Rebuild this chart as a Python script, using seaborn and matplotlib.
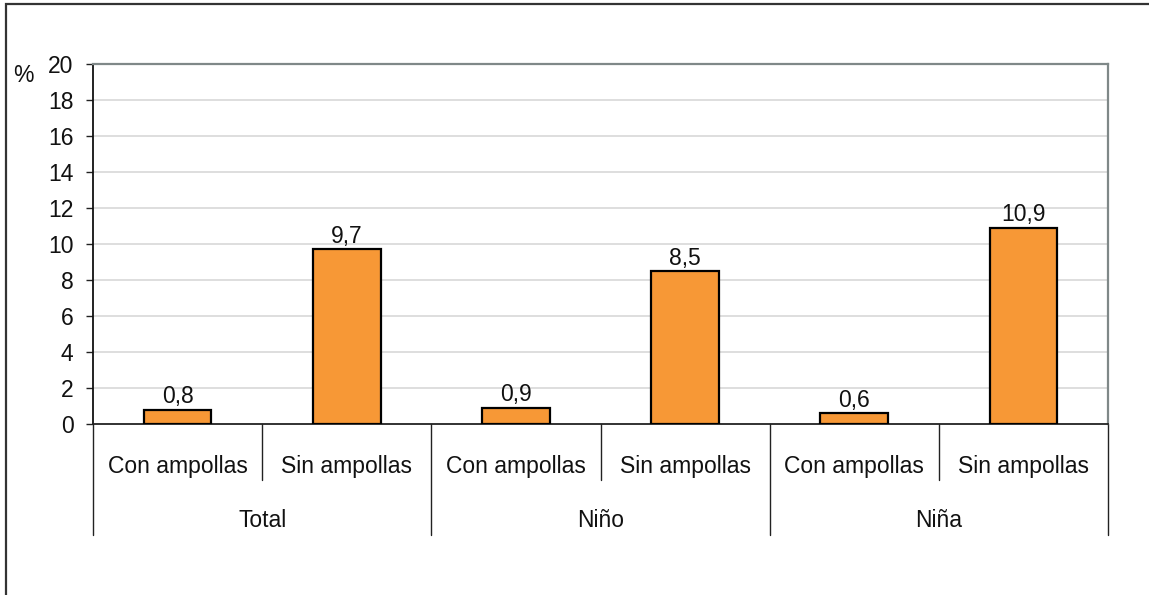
import matplotlib
matplotlib.use('Agg')
import matplotlib.pyplot as plt
import matplotlib.transforms as mtransforms
from matplotlib.patches import Rectangle
import seaborn as sns
import pandas as pd

groups = ['Total', 'Niño', 'Niña']
subcats = ['Con ampollas', 'Sin ampollas']
values = [0.8, 9.7, 0.9, 8.5, 0.6, 10.9]
value_labels = ['0,8', '9,7', '0,9', '8,5', '0,6', '10,9']
yticks = [0, 2, 4, 6, 8, 10, 12, 14, 16, 18, 20]

rows = []
for gi, g in enumerate(groups):
    for si, s in enumerate(subcats):
        rows.append({'key': f'{g}|{s}', 'grupo': g, 'cat': s, 'pct': values[gi * 2 + si]})
df = pd.DataFrame(rows)

sns.set_style('white')
plt.rcParams['font.family'] = ['Liberation Sans Narrow', 'Liberation Sans', 'DejaVu Sans']
fs = 16.5

fig = plt.figure(figsize=(11.49, 5.95), dpi=100)
ax = fig.add_axes([93 / 1149, 1 - 424 / 595, (1108 - 93) / 1149, 360 / 595])

sns.barplot(data=df, x='key', y='pct', order=df['key'], color='#F79836',
            saturation=1, width=0.40, edgecolor='black', linewidth=1.6, ax=ax, zorder=3)

ax.set_ylim(0, 20)
ax.set_xlim(-0.5, len(df) - 0.5)
ax.set_yticks(yticks)
ax.set_yticklabels([str(t) for t in yticks], fontsize=fs, color='#111111')
ax.tick_params(axis='y', length=5, width=1, color='#222222', pad=9, left=True, direction='out')
ax.set_xticks([])
ax.set_xlabel('')
ax.set_ylabel('')
for t in yticks[1:-1]:
    ax.axhline(t, color='#d4d4d4', lw=1.1, zorder=1)

ax.spines['left'].set_color('#111111')
ax.spines['left'].set_linewidth(1.3)
ax.spines['bottom'].set_color('#222222')
ax.spines['bottom'].set_linewidth(1.3)
for s in ['top', 'right']:
    ax.spines[s].set_color('#7f8888')
    ax.spines[s].set_linewidth(1.6)

for p, lab in zip(ax.patches, value_labels):
    ax.annotate(lab, (p.get_x() + p.get_width() / 2, p.get_height()),
                xytext=(0, 1), textcoords='offset points', ha='center', va='bottom',
                fontsize=fs, color='#111111')

trans = mtransforms.blended_transform_factory(ax.transData, ax.transAxes)
for i, row in df.iterrows():
    ax.text(i, -0.119, row['cat'], transform=trans, ha='center', va='center',
            fontsize=fs, color='#111111')
for i in range(len(df) + 1):
    x = i - 0.5
    y0 = -0.308 if i % 2 == 0 else -0.156
    ax.plot([x, x], [0, y0], transform=trans, color='#222222', lw=1.0, clip_on=False)
for gi, g in enumerate(groups):
    ax.text(gi * 2 + 0.5, -0.267, g, transform=trans, ha='center', va='center',
            fontsize=fs, color='#111111')

fig.text(23 / 1149, 1 - 75 / 595, '%', ha='center', va='center', fontsize=fs, color='#111111')

fig.patches.append(Rectangle((6 / 1149, -0.1), 1.2, 1.1 - 4 / 595, transform=fig.transFigure,
                             fill=False, edgecolor='#333333', lw=1.6, clip_on=False))

fig.savefig('out.png', dpi=100)
